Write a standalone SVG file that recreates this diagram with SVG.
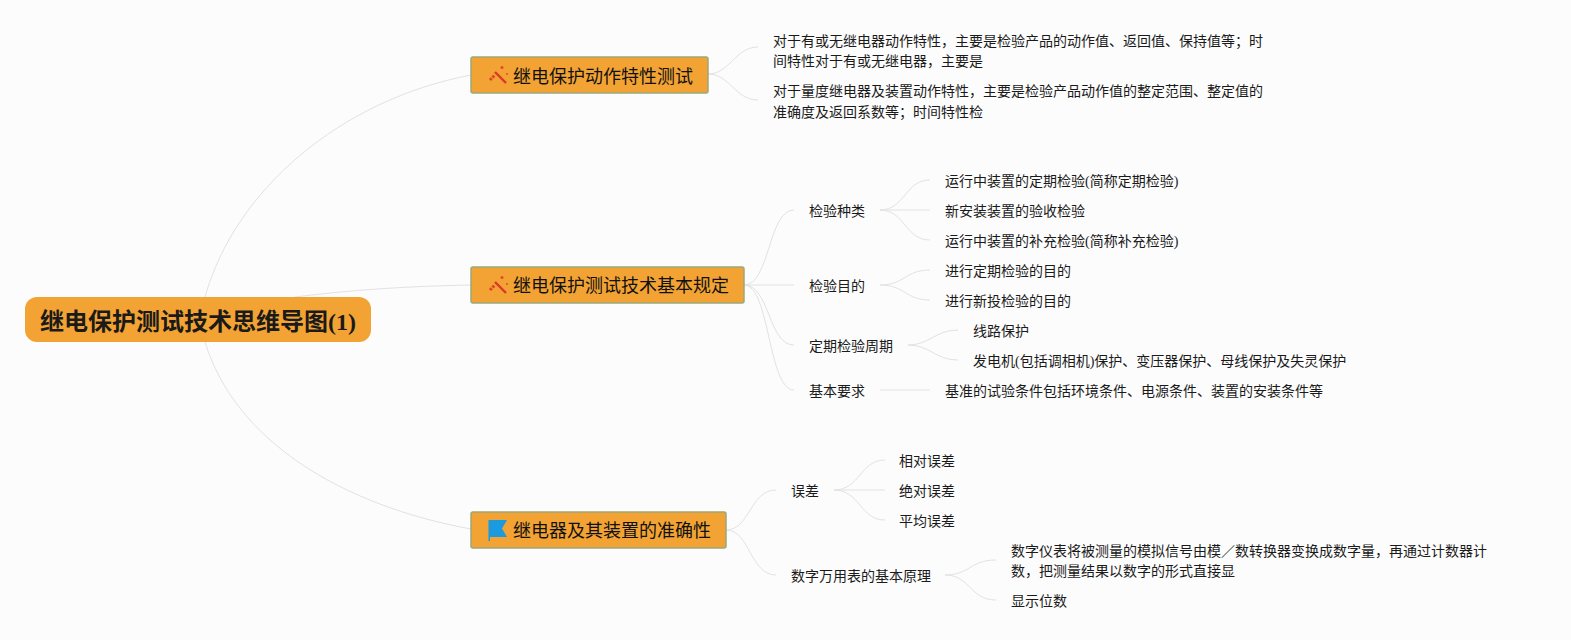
<svg xmlns="http://www.w3.org/2000/svg" width="1571" height="640" viewBox="0 0 1571 640">
<defs>
<style>
text{font-family:"Liberation Serif","Noto Sans CJK SC",sans-serif;fill:#1a1a1a}
.l{font-size:14px}
.t{font-size:18px;fill:#111}
.b{fill:#f3a333;stroke:#9aa87a;stroke-width:1.5}
.c{fill:none;stroke:#e2e2e2;stroke-width:1}
</style>
<g id="wand">
<path d="M5 6 L16 17" stroke="#d9382a" stroke-width="2.4" fill="none"/>
<path d="M0 14 L5 9" stroke="#e0402c" stroke-width="3" stroke-dasharray="2.5 1" fill="none"/>
<circle cx="12" cy="1.5" r="1.5" fill="#e8452c"/>
<circle cx="17" cy="8" r="1" fill="#e8452c"/>
</g>
</defs>
<rect width="1571" height="640" fill="#fcfcfc"/>
<g id="connectors">
<path class="c" d="M205 297C235 190 340 100 471 75"/>
<path class="c" d="M295 297C350 290 410 286 471 285"/>
<path class="c" d="M205 342C235 440 340 505 471 529"/>
<path class="c" d="M708 74C730 74 735 47 758 47"/>
<path class="c" d="M708 74C730 74 735 100 758 100"/>
<path class="c" d="M744 285C770 285 768 210 794 210"/>
<path class="c" d="M744 285H794"/>
<path class="c" d="M744 285C770 285 768 345 794 345"/>
<path class="c" d="M744 285C770 285 768 390 794 390"/>
<path class="c" d="M880 210C905 210 905 180 930 180"/>
<path class="c" d="M880 210H930"/>
<path class="c" d="M880 210C905 210 905 240 930 240"/>
<path class="c" d="M880 285C905 285 905 270 930 270"/>
<path class="c" d="M880 285C905 285 905 300 930 300"/>
<path class="c" d="M908 345C930 345 935 330 958 330"/>
<path class="c" d="M908 345C930 345 935 360 958 360"/>
<path class="c" d="M880 390H930"/>
<path class="c" d="M726 530C750 530 750 490 776 490"/>
<path class="c" d="M726 530C750 530 750 575 776 575"/>
<path class="c" d="M834 490C860 490 860 460 885 460"/>
<path class="c" d="M834 490H885"/>
<path class="c" d="M834 490C860 490 860 520 885 520"/>
<path class="c" d="M945 575C970 575 970 560 996 560"/>
<path class="c" d="M945 575C970 575 970 600 996 600"/>
</g>
<g id="root"><rect x="25" y="297" width="346" height="45" rx="12" fill="#f3a333"/><text x="40" y="330" font-size="24" font-weight="700" fill="#111">继电保护测试技术思维导图(1)</text></g>
<g id="n1"><rect class="b" x="471" y="57" width="237" height="36" rx="2"/><use href="#wand" x="490" y="66"/><text class="t" x="513" y="83">继电保护动作特性测试</text></g>
<g id="n2"><rect class="b" x="471" y="267" width="273" height="36" rx="2"/><use href="#wand" x="490" y="276"/><text class="t" x="513" y="292">继电保护测试技术基本规定</text></g>
<g id="n3"><rect class="b" x="471" y="512" width="255" height="36" rx="2"/><path d="M488.500 520H507L502 528.500L507 537H490V541H488.500Z" fill="#1b9ae0"/><text class="t" x="513" y="537">继电器及其装置的准确性</text></g>
<g id="n4"><text class="l" x="773" y="46">对于有或无继电器动作特性，主要是检验产品的动作值、返回值、保持值等；时</text><text class="l" x="773" y="66">间特性对于有或无继电器，主要是</text></g>
<g id="n5"><text class="l" x="773" y="96">对于量度继电器及装置动作特性，主要是检验产品动作值的整定范围、整定值的</text><text class="l" x="773" y="117">准确度及返回系数等；时间特性检</text></g>
<g id="n6"><text class="l" x="809" y="216">检验种类</text></g>
<g id="n7"><text class="l" x="809" y="291">检验目的</text></g>
<g id="n8"><text class="l" x="809" y="351">定期检验周期</text></g>
<g id="n9"><text class="l" x="809" y="396">基本要求</text></g>
<g id="n10"><text class="l" x="945" y="186">运行中装置的定期检验(简称定期检验)</text></g>
<g id="n11"><text class="l" x="945" y="216">新安装装置的验收检验</text></g>
<g id="n12"><text class="l" x="945" y="246">运行中装置的补充检验(简称补充检验)</text></g>
<g id="n13"><text class="l" x="945" y="276">进行定期检验的目的</text></g>
<g id="n14"><text class="l" x="945" y="306">进行新投检验的目的</text></g>
<g id="n15"><text class="l" x="973" y="336">线路保护</text></g>
<g id="n16"><text class="l" x="973" y="366">发电机(包括调相机)保护、变压器保护、母线保护及失灵保护</text></g>
<g id="n17"><text class="l" x="945" y="396">基准的试验条件包括环境条件、电源条件、装置的安装条件等</text></g>
<g id="n18"><text class="l" x="791" y="496">误差</text></g>
<g id="n19"><text class="l" x="791" y="581">数字万用表的基本原理</text></g>
<g id="n20"><text class="l" x="899" y="466">相对误差</text></g>
<g id="n21"><text class="l" x="899" y="496">绝对误差</text></g>
<g id="n22"><text class="l" x="899" y="526">平均误差</text></g>
<g id="n23"><text class="l" x="1011" y="556">数字仪表将被测量的模拟信号由模／数转换器变换成数字量，再通过计数器计</text><text class="l" x="1011" y="576">数，把测量结果以数字的形式直接显</text></g>
<g id="n24"><text class="l" x="1011" y="606">显示位数</text></g>
</svg>
